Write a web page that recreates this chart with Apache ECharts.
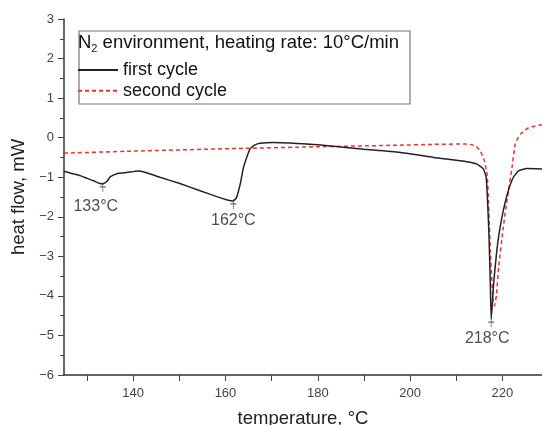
<!DOCTYPE html>
<html><head><meta charset="utf-8">
<script src="https://cdn.jsdelivr.net/npm/echarts@6/dist/echarts.min.js"></script>
<style>html,body{margin:0;padding:0;background:#fff}#c{width:542px;height:425px}</style>
</head><body><div id="c"></div>
<script>
// first cycle (black solid)
const tempFirst = [125,126.5,128.5,130,131.4,132.8,133.4,134.3,135,136.8,138.6,141.1,142.2,145.8,150.1,154.5,158.1,160.6,161.7,162.4,163.2,163.9,164.6,165.3,166.4,167.5,170.3,180,190,197.7,205.1,212.3,214.5,215.9,216.5,216.8,217.1,217.4,217.6,218.1,218.8,219.4,220.2,221.3,222.4,223.5,225.3,228.6];
const heatFirst = [-0.85,-0.90,-0.96,-1.03,-1.09,-1.16,-1.17,-1.11,-0.99,-0.90,-0.88,-0.84,-0.86,-1.0,-1.16,-1.34,-1.49,-1.58,-1.60,-1.51,-1.17,-0.75,-0.50,-0.29,-0.18,-0.14,-0.12,-0.18,-0.29,-0.37,-0.50,-0.61,-0.67,-0.79,-1.0,-1.6,-2.44,-3.71,-4.59,-3.71,-2.86,-2.35,-1.85,-1.34,-1.0,-0.84,-0.78,-0.79];
// second cycle (red dashed)
const tempSecond = [125,140,160,180,197.7,205,212.3,214.1,215.2,216.1,216.7,217.0,217.4,218.0,218.3,218.7,219.2,220.2,221.0,222.1,222.8,223.9,225.7,228.6];
const heatSecond = [-0.39,-0.34,-0.28,-0.23,-0.19,-0.17,-0.16,-0.20,-0.33,-0.58,-0.92,-1.6,-2.86,-4.13,-4.25,-4.0,-3.28,-2.27,-1.6,-0.75,-0.16,0.09,0.25,0.33];
// peak annotations
const peakTemps = [133.4, 161.7, 217.6];
const peakHeats = [-1.17, -1.60, -4.59];
const peakLabels = ['133°C', '162°C', '218°C'];
// axis ticks and labels
const xTickValues = [130,140,150,160,170,180,190,200,210,220];
const xLabelValues = [140,160,180,200,220];
const seriesNames = ['first cycle', 'second cycle'];
const xTitle = 'temperature, °C';
const yTitle = 'heat flow, mW';

const zip = (a, b) => a.map((x, i) => [x, b[i]]);
const chart = echarts.init(document.getElementById('c'), null, {renderer: 'canvas'});
const FONT = 'Liberation Sans, Arial, sans-serif';
chart.setOption({
  animation: false,
  backgroundColor: '#fff',
  textStyle: {fontFamily: FONT},
  grid: {left: 64, top: 19, bottom: 50, right: 0, containLabel: false, outerBoundsMode: 'none'},
  title: {
    left: 78, top: 32, padding: 0,
    text: '{n|N}{s|2}{n| environment, heating rate: 10°C/min}',
    textStyle: {
      fontWeight: 'normal',
      rich: {
        n: {fontSize: 18.5, color: '#111', fontFamily: FONT, fontWeight: 'normal'},
        s: {fontSize: 11, color: '#111', fontFamily: FONT, fontWeight: 'normal', padding: [11, 0, 0, 0]}
      }
    }
  },
  graphic: [{
    type: 'rect', left: 76.5, top: 28.5,
    shape: {width: 331, height: 73},
    style: {fill: 'none', stroke: '#777', lineWidth: 1.2}
  }],
  legend: {
    orient: 'vertical', left: 77, top: 61, padding: 0,
    itemWidth: 40, itemHeight: 10, itemGap: 2.7,
    itemStyle: {opacity: 0},
    textStyle: {fontSize: 18, color: '#111', lineHeight: 18, fontFamily: FONT},
    data: seriesNames
  },
  xAxis: {
    type: 'value', min: 125, max: 228.6,
    name: xTitle, nameLocation: 'middle', nameGap: 34,
    nameTextStyle: {fontSize: 18.5, color: '#222', fontFamily: FONT},
    axisLine: {onZero: false, lineStyle: {color: '#333', width: 1.5}},
    axisTick: {show: true, inside: false, length: 6, customValues: xTickValues, lineStyle: {color: '#444'}},
    axisLabel: {
      margin: 12, fontSize: 13, color: '#444', fontFamily: FONT,
      customValues: xLabelValues
    },
    splitLine: {show: false}
  },
  yAxis: {
    type: 'value', min: -6, max: 3, interval: 1,
    name: yTitle, nameLocation: 'middle', nameGap: 35, nameRotate: 90,
    nameTextStyle: {fontSize: 18.5, color: '#222', fontFamily: FONT},
    axisLine: {show: true, onZero: false, lineStyle: {color: '#333', width: 1.5}},
    axisTick: {show: true, inside: false, length: 6, lineStyle: {color: '#444'}},
    minorTick: {show: true, splitNumber: 2, length: 4, lineStyle: {color: '#444'}},
    axisLabel: {margin: 10, fontSize: 13, color: '#444', fontFamily: FONT,
      formatter: v => (v < 0 ? '\u2212' + Math.abs(v) : String(v))},
    splitLine: {show: false}
  },
  series: [
    {
      name: seriesNames[0], type: 'line', symbol: 'none', smooth: 0.15,
      data: zip(tempFirst, heatFirst),
      lineStyle: {color: '#222', width: 1.5},
      itemStyle: {color: '#222'}, z: 3
    },
    {
      name: seriesNames[1], type: 'line', symbol: 'none', smooth: 0.15,
      data: zip(tempSecond, heatSecond),
      lineStyle: {color: '#f03030', width: 1.5, type: [4, 3]},
      itemStyle: {color: '#f03030'}, z: 2
    },
    {
      name: 'peaks', type: 'scatter',
      symbol: 'path://M5,0L5,10M2,5L8,5', symbolSize: [6, 10], symbolOffset: [0, 3],
      itemStyle: {color: 'none', borderColor: '#444', borderWidth: 1},
      data: zip(peakTemps, peakHeats).map((p, i) => ({
        value: p,
        label: {
          show: true, position: 'bottom', distance: i === 0 ? 3 : 0,
          offset: i === 0 ? [-7, 0] : (i === 2 ? [-4, 0] : [0, 0]),
          formatter: peakLabels[i], fontSize: 16, color: '#222', fontFamily: FONT
        }
      })),
      z: 4
    }
  ]
});
</script></body></html>
